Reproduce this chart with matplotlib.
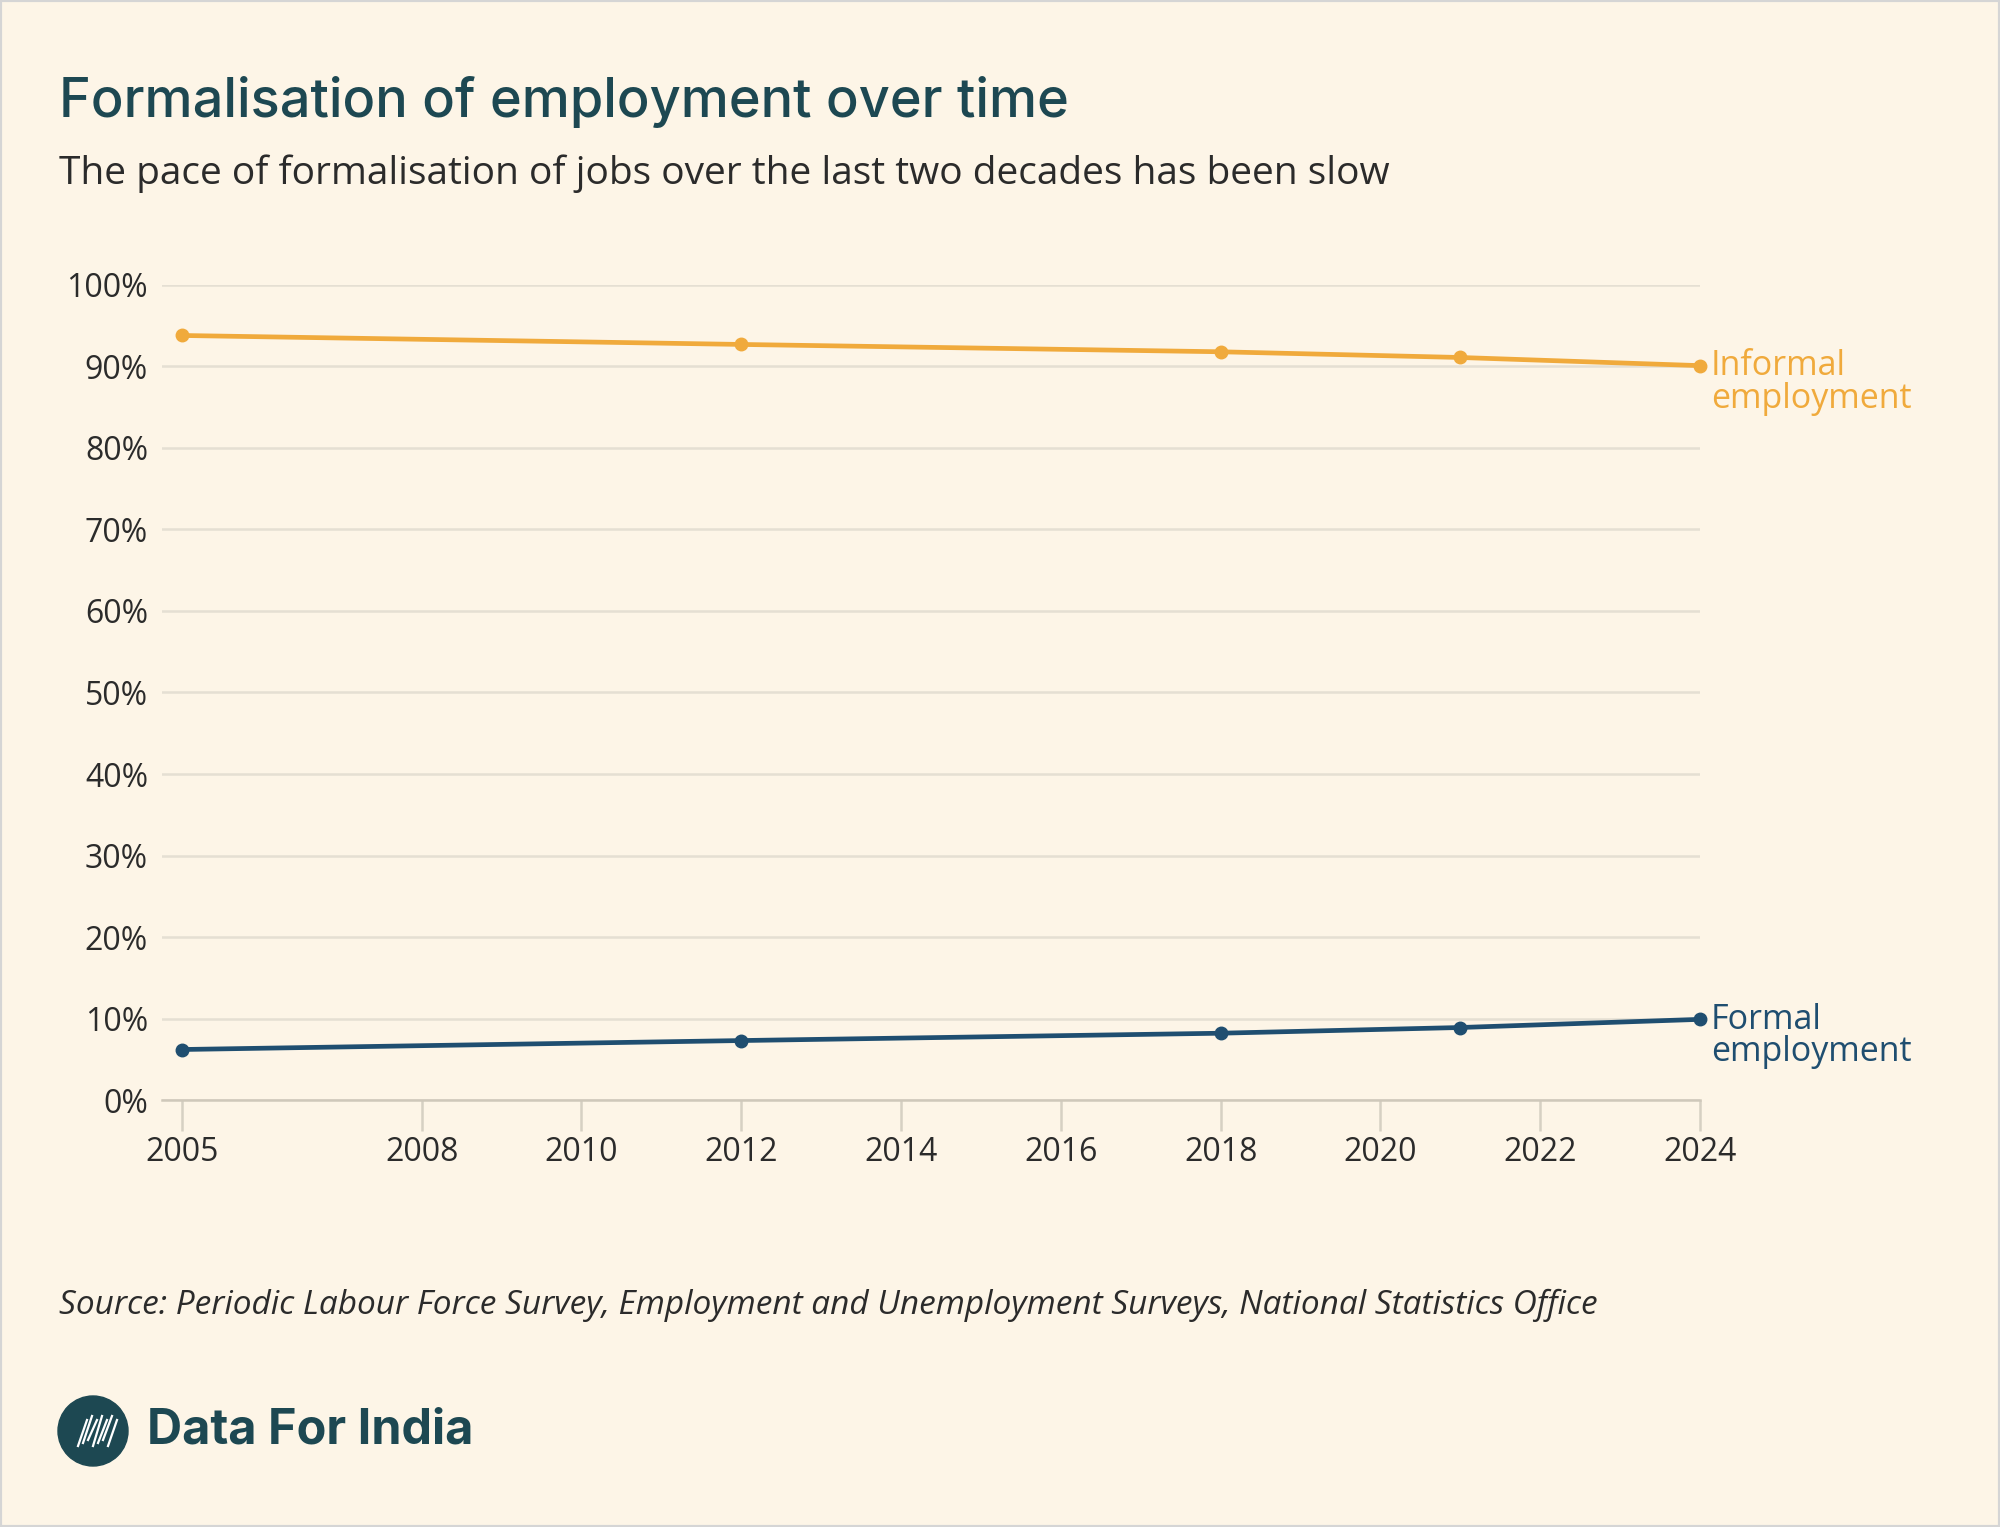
import matplotlib.pyplot as plt
from matplotlib.patches import Circle, Rectangle
from matplotlib.ticker import FuncFormatter

years = [2005, 2012, 2018, 2021, 2024]
informal = [93.8, 92.7, 91.8, 91.1, 90.1]
formal = [6.2, 7.3, 8.2, 8.9, 9.9]
xticks = [2005, 2008, 2010, 2012, 2014, 2016, 2018, 2020, 2022, 2024]
yticks = [0, 10, 20, 30, 40, 50, 60, 70, 80, 90, 100]

bg = "#FDF5E7"
orange = "#F0AA3C"
blue = "#1F4E70"
teal = "#1D4852"
grid = "#E5DFD3"
textc = "#2B2B2B"

fig = plt.figure(figsize=(20, 15.27), dpi=100, facecolor=bg)
ax = fig.add_axes([0.081, 0.2796, 0.769, 0.5338])
ax.set_facecolor(bg)

ax.plot(years, informal, color=orange, lw=3.4, marker="o", ms=9,
        solid_capstyle="round", clip_on=False)
ax.plot(years, formal, color=blue, lw=3.4, marker="o", ms=9,
        solid_capstyle="round", clip_on=False)

ax.set_xlim(2004.75, 2024)
ax.set_ylim(0, 100)
ax.set_xticks(xticks)
ax.set_yticks(yticks)
ax.yaxis.set_major_formatter(FuncFormatter(lambda v, p: f"{v:.0f}%"))
ax.grid(axis="y", color=grid, lw=1.8)
ax.set_axisbelow(True)
for s in ["top", "right", "left"]:
    ax.spines[s].set_visible(False)
ax.spines["bottom"].set_color("#CFC8BA")
ax.spines["bottom"].set_linewidth(1.8)
ax.tick_params(axis="x", length=22, width=1.8, color="#D6D0C3", pad=4,
               labelsize=23, labelcolor=textc)
ax.tick_params(axis="y", length=0, pad=10, labelsize=23, labelcolor=textc)
for lab in ax.get_xticklabels() + ax.get_yticklabels():
    lab.set_family("Open Sans")

# end labels, first line level with the last point
ax.annotate("Informal\nemployment", (years[-1], informal[-1]), xytext=(8, 12),
            textcoords="offset points", va="top", ha="left", fontsize=24.5,
            color=orange, family="Open Sans", linespacing=0.95,
            annotation_clip=False)
ax.annotate("Formal\nemployment", (years[-1], formal[-1]), xytext=(8, 12),
            textcoords="offset points", va="top", ha="left", fontsize=24.5,
            color=blue, family="Open Sans", linespacing=0.95,
            annotation_clip=False)

fig.text(0.0293, 0.9335, "Formalisation of employment over time", fontsize=39,
         color=teal, family="Inter", fontweight="medium", va="center", ha="left")
fig.text(0.0293, 0.886, "The pace of formalisation of jobs over the last two decades has been slow",
         fontsize=28, color=textc, family="Open Sans", va="center", ha="left")
fig.text(0.0293, 0.1454, "Source: Periodic Labour Force Survey, Employment and Unemployment Surveys, "
         "National Statistics Office", fontsize=24, color=textc, family="Open Sans",
         style="italic", va="center", ha="left")

# logo
W, H = 2000, 1527
ly = 1 - 1431 / H
fig.patches.append(Circle((93, H - 1431), 35, transform=None, color=teal))
for i in range(7):
    x0 = 78 + i * 5
    fig.add_artist(plt.Line2D([x0 / W, (x0 + 9) / W], [(H - 1446 + i % 3 * 3) / H,
                                                      (H - 1420 + i % 2 * 4) / H],
                              color="white", lw=1.6))
fig.text(147 / W, ly, "Data For India", fontsize=35, fontweight="bold",
         color=teal, family="Inter", va="center", ha="left")

fig.patches.append(Rectangle((0, 0), 1, 1, transform=fig.transFigure, fill=False,
                             edgecolor="#D5D5D5", lw=3))

fig.savefig("out.png", dpi=100, facecolor=bg)
